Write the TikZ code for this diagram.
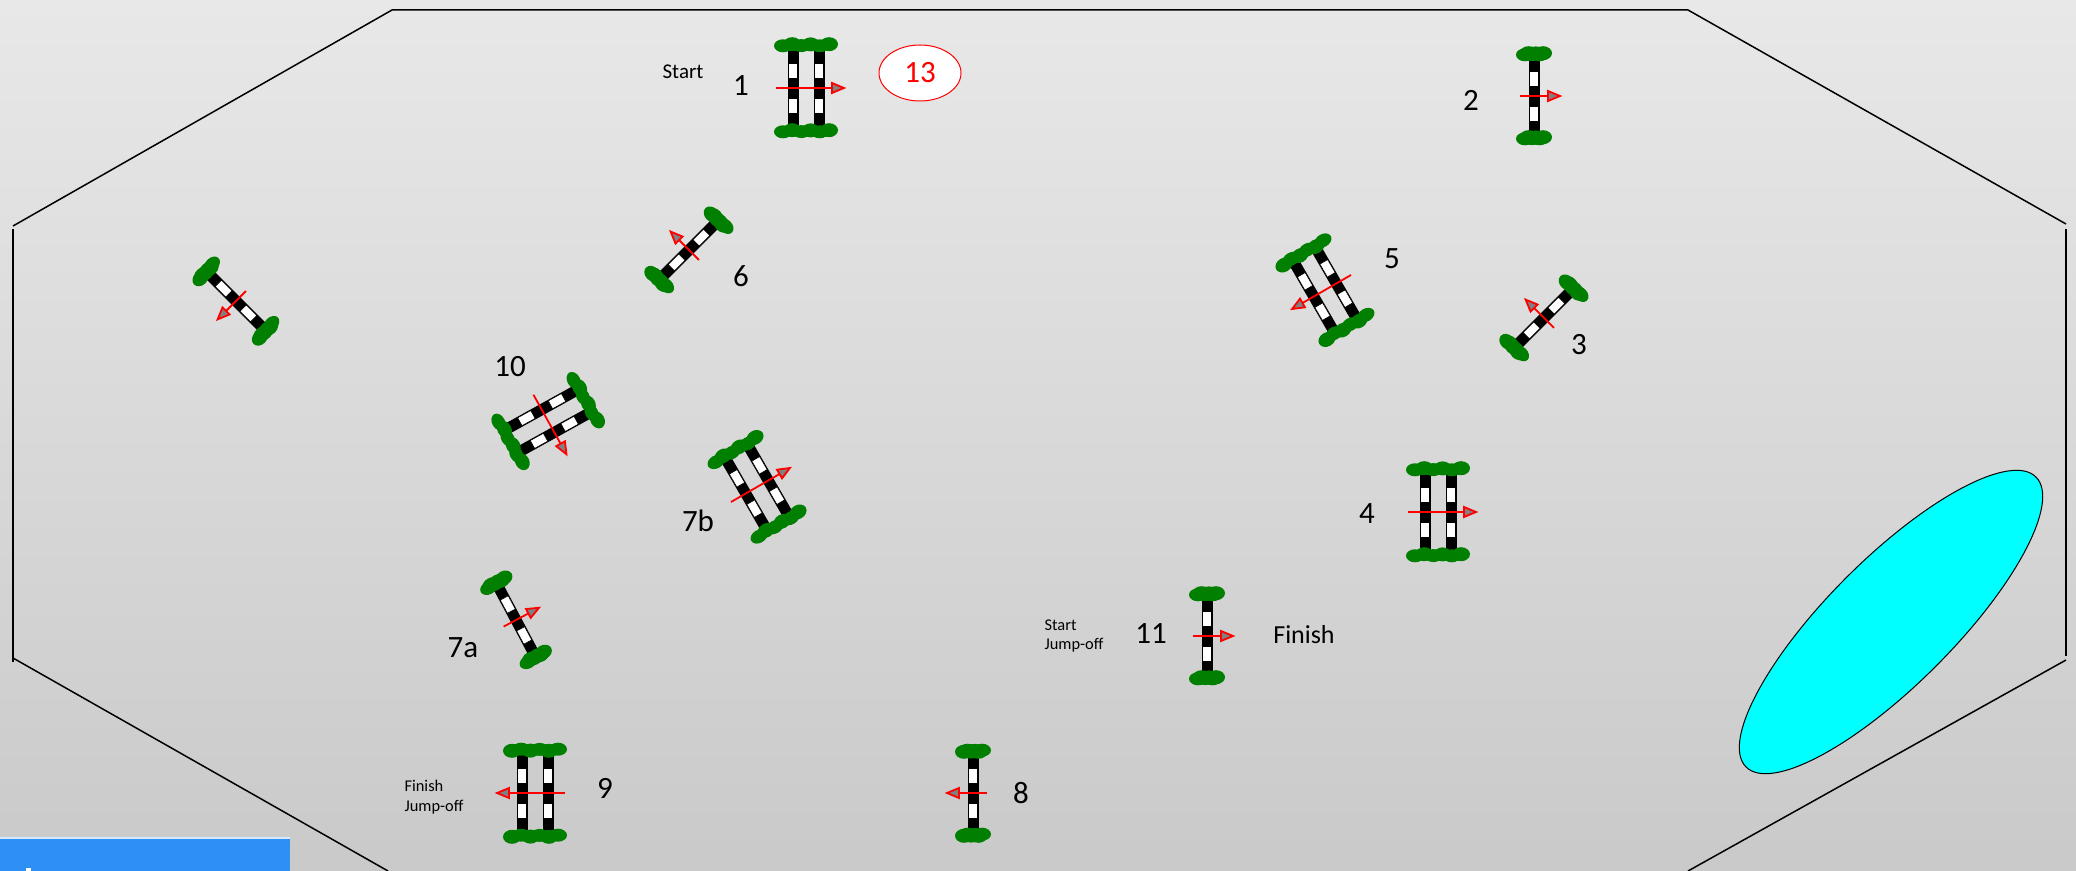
\documentclass[tikz,border=0pt]{standalone}
\usepackage{fontspec}
\usetikzlibrary{shapes.geometric}
\setmainfont{Carlito}
\definecolor{bushgreen}{HTML}{007F00}
\definecolor{barblue}{HTML}{2E90F5}
\definecolor{watercyan}{RGB}{0,255,255}
\tikzset{
  x=0.5pt,y=-0.5pt,
  fence/.style={line width=0.75pt,black},
  railblack/.style={fill=black,draw=none},
  railwhite/.style={fill=white,draw=black,line width=0.3pt},
  bush/.style={fill=bushgreen,draw=none},
  dirline/.style={draw=red,line width=0.9pt},
  dirhead/.style={draw=red,fill=gray,line width=0.9pt,line join=miter},
  bignum/.style={font=\fontsize{15.5}{18}\selectfont,black,inner sep=0pt},
  smalltxt/.style={font=\fontsize{8.2}{10.2}\selectfont,black,align=left,inner sep=0pt},
}
\newcommand{\railbar}[1]{%
  \fill[railblack] (#1-5.5,-39.5) rectangle (#1+5.5,39.5);
  \draw[railwhite] (#1-4.5,-25) rectangle (#1+4.5,-10);
  \draw[railwhite] (#1-4.5,10) rectangle (#1+4.5,25);
}
\newcommand{\bushrow}[2]{% y, half width
  \foreach \k/\h/\d in {-1/6.5/0.8,-0.6/7/-0.8,-0.2/6.5/0.6,0.2/7/-0.6,0.6/6.5/0.8,1/7/-0.8}{
    \fill[bush] ({\k*(#2-9)},#1+\d) ellipse (9 and \h);
  }
}
\newcommand{\dirarrow}[2]{% from, to along local x
  \draw[dirline] (#1,0) -- (#2-12,0);
  \draw[dirhead] (#2-12,-5) -- (#2,0) -- (#2-12,5) -- cycle;
}
\newcommand{\jumpsingle}[3]{%
  \begin{scope}[shift={(#1,#2)},rotate=#3]
    \railbar{0}
    \bushrow{-42}{18}
    \bushrow{42}{18}
    \dirarrow{-14}{26}
  \end{scope}}
\newcommand{\jumpdouble}[3]{%
  \begin{scope}[shift={(#1,#2)},rotate=#3]
    \railbar{-13}
    \railbar{13}
    \bushrow{-43}{32}
    \bushrow{43}{32}
    \dirarrow{-30}{38}
  \end{scope}}
\begin{document}
\begin{tikzpicture}
  \path[use as bounding box] (0,0) rectangle (2076,871);
  \shade[top color=black!9,bottom color=black!21,shading angle=0] (0,0) rectangle (2076,871);

  % arena outline
  \coordinate (a1) at (13,226);
  \coordinate (a2) at (392,10);
  \coordinate (a3) at (1688,10);
  \coordinate (a4) at (2066,224);
  \coordinate (a5) at (2066,229);
  \coordinate (a6) at (2066,656);
  \coordinate (a7) at (2066,660);
  \coordinate (a8) at (1688,871);
  \coordinate (a9) at (388,871);
  \coordinate (a10) at (13,658);
  \coordinate (a11) at (13,662);
  \coordinate (a12) at (13,229);
  \draw[fence] (a1) -- (a2) -- (a3) -- (a4);
  \draw[fence] (a5) -- (a6);
  \draw[fence] (a7) -- (a8);
  \draw[fence] (a9) -- (a10);
  \draw[fence] (a11) -- (a12);

  % water
  \draw[black,line width=0.5pt,fill=watercyan,rotate around={45:(1891,622)}] (1891,622) ellipse (205 and 63);

  % bottom bar
  \fill[barblue] (0,838) rectangle (290,871);
  \fill[white!80!barblue] (0,837) rectangle (290,839);
  \fill[white] (26,868) rectangle (31,871);

  % jumps
  \jumpdouble{806}{88}{0}
  \jumpsingle{1534}{96}{0}
  \jumpsingle{236}{301}{225}
  \jumpsingle{689}{250}{135}
  \jumpdouble{1325}{290}{210}
  \jumpsingle{1544}{318}{135}
  \jumpdouble{548}{421}{-61}
  \jumpdouble{757}{487}{30}
  \jumpdouble{1438}{512}{0}
  \jumpsingle{516}{620}{28}
  \jumpsingle{1207}{636}{0}
  \jumpdouble{535}{793}{180}
  \jumpsingle{973}{793}{180}

  % labels
  \node[smalltxt,font=\fontsize{10.5}{12}\selectfont] (start) at (683,72) {Start};
  \node[bignum] (n1) at (741,86) {1};
  \node[draw=red,fill=white,line width=0.5pt,ellipse,minimum width=41pt,minimum height=28pt,inner sep=0pt,text=red,font=\fontsize{15.5}{18}\selectfont] (n13) at (920,73) {13};
  \node[bignum] (n2) at (1471,100) {2};
  \node[bignum] (n6) at (741,276) {6};
  \node[bignum] (n5) at (1392,259) {5};
  \node[bignum] (n3) at (1579,345) {3};
  \node[bignum] (n10) at (510,367) {10};
  \node[bignum] (n7b) at (698,521) {7b};
  \node[bignum] (n4) at (1367,514) {4};
  \node[bignum] (n7a) at (463,648) {7a};
  \node[bignum] (n11) at (1151,634) {11};
  \node[black,inner sep=0pt,font=\fontsize{13}{15}\selectfont] (fin) at (1304,635) {Finish};
  \node[smalltxt] (sj) at (1074,636) {Start\\[-0.5pt]Jump-off};
  \node[smalltxt] (fj) at (434,797) {Finish\\[-0.5pt]Jump-off};
  \node[bignum] (n9) at (605,788) {9};
  \node[bignum] (n8) at (1021,793) {8};
\end{tikzpicture}
\end{document}
